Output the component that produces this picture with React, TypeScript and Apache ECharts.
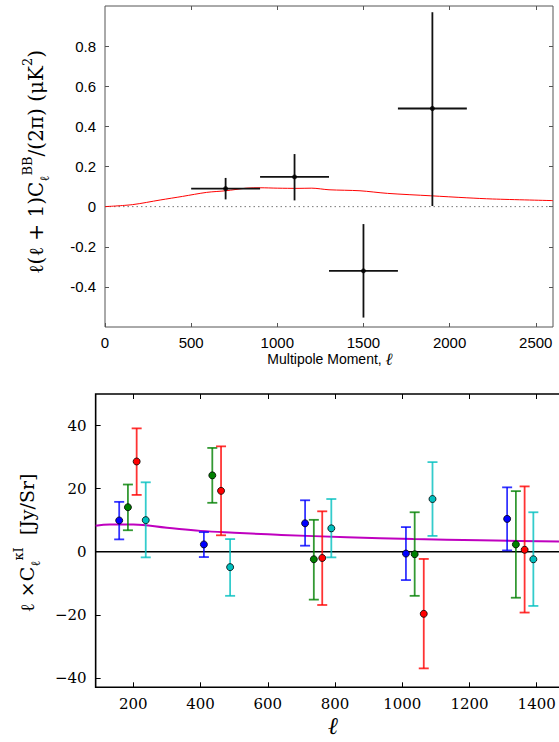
import React, { useEffect, useRef } from "react";
import * as echarts from "echarts";

// ---------- Top panel: BB power spectrum ----------
const bbEll = [700, 1100, 1500, 1900];
const bbVal = [0.09, 0.148, -0.32, 0.489];
const bbBinLo = [500, 900, 1300, 1700];
const bbBinHi = [900, 1300, 1700, 2100];
const bbErrLo = [0.036, 0.031, -0.553, 0.003];
const bbErrHi = [0.143, 0.262, -0.087, 0.969];

const theoryEll = [0, 160, 320, 450, 590, 700, 820, 900, 1000, 1120, 1200, 1300, 1480, 1640, 1890, 2100, 2250, 2600];
const theoryVal = [0, 0.01, 0.033, 0.051, 0.071, 0.079, 0.092, 0.094, 0.092, 0.091, 0.092, 0.084, 0.079, 0.066, 0.054, 0.044, 0.038, 0.03];

const topXTicks = [0, 500, 1000, 1500, 2000, 2500];
const topYTicks = [-0.4, -0.2, 0, 0.2, 0.4, 0.6, 0.8];

// ---------- Bottom panel: kappa x CIB cross spectrum ----------
const blueEll = [158, 410, 711, 1011, 1312];
const blueVal = [9.9, 2.3, 9.0, -0.6, 10.4];
const blueLo = [3.9, -1.7, 1.9, -9.0, 0.4];
const blueHi = [15.8, 6.2, 16.3, 7.8, 20.4];

const greenEll = [184, 435, 737, 1037, 1338];
const greenVal = [14.1, 24.2, -2.4, -0.8, 2.3];
const greenLo = [6.8, 15.5, -15.2, -14.0, -14.6];
const greenHi = [21.3, 32.9, 10.1, 12.5, 19.2];

const redEll = [210, 461, 762, 1064, 1364];
const redVal = [28.6, 19.3, -2.0, -19.7, 0.6];
const redLo = [18.0, 5.2, -16.9, -37.0, -19.3];
const redHi = [39.1, 33.4, 12.8, -2.3, 20.7];

const cyanEll = [237, 488, 789, 1090, 1390];
const cyanVal = [10.0, -4.9, 7.4, 16.7, -2.4];
const cyanLo = [-1.8, -14.0, -1.8, 5.0, -17.2];
const cyanHi = [22.0, 4.0, 16.7, 28.4, 12.5];

const modelEll = [88, 130, 200, 300, 400, 500, 600, 640, 835, 1033, 1231, 1466, 1600];
const modelVal = [8.2, 8.6, 8.6, 7.6, 6.6, 6.0, 5.5, 5.3, 4.6, 4.0, 3.6, 3.2, 3.0];

const botXTicks = [200, 400, 600, 800, 1000, 1200, 1400];
const botYTicks = [-40, -20, 0, 20, 40];

const SANS = "Liberation Sans";
const SERIF = "DejaVu Serif";

function zip(a: number[], b: number[]) {
  return a.map((v, i) => [v, b[i]]);
}

export default function App() {
  const ref = useRef<HTMLDivElement>(null);
  useEffect(() => {
    if (!ref.current) return;
    const chart = echarts.init(ref.current, undefined, { renderer: "svg" });

    const bbRows = bbEll.map((l, i) => [l, bbVal[i], bbBinLo[i], bbBinHi[i], bbErrLo[i], bbErrHi[i]]);

    const bbErrSeries = {
      type: "custom",
      xAxisIndex: 0,
      yAxisIndex: 0,
      data: bbRows,
      encode: { x: 0, y: 1 },
      renderItem: (params: any, api: any) => {
        const x = api.value(0), y = api.value(1);
        const a = api.coord([api.value(2), y]);
        const b = api.coord([api.value(3), y]);
        const c = api.coord([x, api.value(4)]);
        const d = api.coord([x, api.value(5)]);
        const st = { stroke: "#111", lineWidth: 1.8 };
        return {
          type: "group",
          children: [
            { type: "line", shape: { x1: a[0], y1: a[1], x2: b[0], y2: b[1] }, style: st },
            { type: "line", shape: { x1: c[0], y1: c[1], x2: d[0], y2: d[1] }, style: st },
          ],
        };
      },
      z: 3,
    };

    const makeErr = (ell: number[], lo: number[], hi: number[], color: string) => ({
      type: "custom",
      xAxisIndex: 2,
      yAxisIndex: 2,
      data: ell.map((l, i) => [l, lo[i], hi[i]]),
      encode: { x: 0, y: 1 },
      renderItem: (params: any, api: any) => {
        const x = api.value(0);
        const p1 = api.coord([x, api.value(1)]);
        const p2 = api.coord([x, api.value(2)]);
        const st = { stroke: color, lineWidth: 1.8, opacity: 0.8 };
        const cw = 5;
        return {
          type: "group",
          children: [
            { type: "line", shape: { x1: p1[0], y1: p1[1], x2: p2[0], y2: p2[1] }, style: st },
            { type: "line", shape: { x1: p1[0] - cw, y1: p1[1], x2: p1[0] + cw, y2: p1[1] }, style: st },
            { type: "line", shape: { x1: p2[0] - cw, y1: p2[1], x2: p2[0] + cw, y2: p2[1] }, style: st },
          ],
        };
      },
      z: 4,
    });

    const makePts = (ell: number[], val: number[], color: string) => ({
      type: "scatter",
      xAxisIndex: 2,
      yAxisIndex: 2,
      data: zip(ell, val),
      symbol: "circle",
      symbolSize: 7,
      itemStyle: { color, borderColor: "#000", borderWidth: 0.8, opacity: 1 },
      z: 5,
    });

    const topTickStyle = { show: true, inside: true, length: 4, lineStyle: { color: "#555", width: 1 } };
    const botTickStyle = { show: true, inside: true, length: 5, lineStyle: { color: "#000", width: 1 } };

    const option: any = {
      animation: false,
      backgroundColor: "#fff",
      grid: [
        { left: 105, top: 6, width: 448, height: 321, show: true, borderColor: "#555", borderWidth: 1, backgroundColor: "transparent", outerBoundsMode: "none", containLabel: false },
        { left: 95.65, top: 394, width: 508.3, height: 293.3, show: true, borderColor: "#000", borderWidth: 1.6, backgroundColor: "transparent", outerBoundsMode: "none", containLabel: false },
      ],
      xAxis: [
        {
          gridIndex: 0, type: "value", min: 0, max: 2600, position: "bottom",
          axisLine: { show: false, onZero: false },
          axisTick: { ...topTickStyle, customValues: topXTicks },
          axisLabel: { customValues: topXTicks, color: "#000", fontFamily: SANS, fontSize: 15, margin: 8, formatter: (v: number) => String(v) },
          splitLine: { show: false },
        },
        {
          gridIndex: 0, type: "value", min: 0, max: 2600, position: "top",
          axisLine: { show: false, onZero: false },
          axisTick: { ...topTickStyle, customValues: topXTicks.slice(1) },
          axisLabel: { show: false },
          splitLine: { show: false },
        },
        {
          gridIndex: 1, type: "value", min: 88, max: 1600, position: "bottom",
          axisLine: { show: false, onZero: false },
          axisTick: { ...botTickStyle, customValues: botXTicks },
          axisLabel: { customValues: botXTicks, color: "#000", fontFamily: SERIF, fontSize: 15, margin: 9, formatter: (v: number) => String(v) },
          splitLine: { show: false },
        },
        {
          gridIndex: 1, type: "value", min: 88, max: 1600, position: "top",
          axisLine: { show: false, onZero: false },
          axisTick: { ...botTickStyle, customValues: botXTicks },
          axisLabel: { show: false },
          splitLine: { show: false },
        },
      ],
      yAxis: [
        {
          gridIndex: 0, type: "value", min: -0.6, max: 1.0, position: "left",
          axisLine: { show: false, onZero: false },
          axisTick: { ...topTickStyle, customValues: topYTicks },
          axisLabel: {
            customValues: topYTicks, color: "#000", fontFamily: SANS, fontSize: 15, margin: 9,
            formatter: (v: number) => (Math.abs(v) < 1e-9 ? "0" : v.toFixed(1)),
          },
          splitLine: { show: false },
        },
        {
          gridIndex: 0, type: "value", min: -0.6, max: 1.0, position: "right",
          axisLine: { show: false, onZero: false },
          axisTick: { ...topTickStyle, customValues: topYTicks },
          axisLabel: { show: false },
          splitLine: { show: false },
        },
        {
          gridIndex: 1, type: "value", min: -43, max: 50, position: "left",
          axisLine: { show: false, onZero: false },
          axisTick: { ...botTickStyle, customValues: botYTicks },
          axisLabel: {
            customValues: botYTicks, color: "#000", fontFamily: SERIF, fontSize: 15, margin: 9,
            formatter: (v: number) => (v < 0 ? "\u2212" + Math.abs(v) : String(v)),
          },
          splitLine: { show: false },
        },
      ],
      series: [
        {
          type: "line", xAxisIndex: 0, yAxisIndex: 0,
          data: [[0, 0], [2600, 0]],
          showSymbol: false, silent: true,
          lineStyle: { color: "#777", width: 1, type: [1.5, 3] },
          z: 1,
        },
        {
          type: "line", xAxisIndex: 0, yAxisIndex: 0,
          data: zip(theoryEll, theoryVal),
          showSymbol: false, smooth: 0.3,
          lineStyle: { color: "#ff0000", width: 1 },
          z: 2,
        },
        bbErrSeries,
        {
          type: "scatter", xAxisIndex: 0, yAxisIndex: 0,
          data: zip(bbEll, bbVal),
          symbol: "circle", symbolSize: 5,
          itemStyle: { color: "#000" },
          z: 4,
        },
        {
          type: "line", xAxisIndex: 2, yAxisIndex: 2,
          data: [[88, 0], [1600, 0]],
          showSymbol: false, silent: true,
          lineStyle: { color: "#000", width: 1.6 },
          z: 2,
        },
        {
          type: "line", xAxisIndex: 2, yAxisIndex: 2,
          data: zip(modelEll, modelVal),
          showSymbol: false, smooth: 0.4,
          lineStyle: { color: "#bf00bf", width: 2 },
          z: 3,
        },
        makeErr(blueEll, blueLo, blueHi, "#0000ff"),
        makeErr(greenEll, greenLo, greenHi, "#008000"),
        makeErr(redEll, redLo, redHi, "#ff0000"),
        makeErr(cyanEll, cyanLo, cyanHi, "#00bfbf"),
        makePts(blueEll, blueVal, "#0000ff"),
        makePts(greenEll, greenVal, "#008000"),
        makePts(redEll, redVal, "#ff0000"),
        makePts(cyanEll, cyanVal, "#00bfbf"),
      ],
      graphic: [
        {
          type: "text",
          x: 36, y: 162,
          rotation: Math.PI / 2,
          style: {
            text: "{n|\u2113(\u2113 + 1)C}{sub|\u2113}{sup|BB}{n|/(2\u03c0) (\u03bcK}{sup|2}{n|)}",
            align: "center",
            verticalAlign: "middle",
            fill: "#000",
            rich: {
              n: { fontFamily: SERIF, fontSize: 20, lineHeight: 30, verticalAlign: "middle", fill: "#000" },
              sup: { fontFamily: SERIF, fontSize: 13, lineHeight: 14, verticalAlign: "top", fill: "#000" },
              sub: { fontFamily: SERIF, fontSize: 13, lineHeight: 14, verticalAlign: "bottom", fill: "#000" },
            },
          },
        },
        {
          type: "text",
          x: 330, y: 359,
          style: {
            text: "{n|Multipole Moment, }{l|\u2113}",
            align: "center",
            verticalAlign: "middle",
            fill: "#000",
            rich: {
              n: { fontFamily: SANS, fontSize: 14, fill: "#000" },
              l: { fontFamily: SERIF, fontSize: 17, fontStyle: "italic", fill: "#000" },
            },
          },
        },
        {
          type: "text",
          x: 27, y: 543,
          rotation: Math.PI / 2,
          style: {
            text: "{n|\u2113 \u00d7C}{sub|\u2113}{sup|\u03baI}{n|  [Jy/Sr]}",
            align: "center",
            verticalAlign: "middle",
            fill: "#000",
            rich: {
              n: { fontFamily: SERIF, fontSize: 19, lineHeight: 30, verticalAlign: "middle", fill: "#000" },
              sup: { fontFamily: SERIF, fontSize: 13, lineHeight: 14, verticalAlign: "top", fill: "#000" },
              sub: { fontFamily: SERIF, fontSize: 13, lineHeight: 14, verticalAlign: "bottom", fill: "#000" },
            },
          },
        },
        {
          type: "text",
          x: 333, y: 726,
          style: {
            text: "\u2113",
            align: "center",
            verticalAlign: "middle",
            fill: "#000",
            fontFamily: SERIF,
            fontSize: 24,
            fontStyle: "italic",
          },
        },
      ],
    };

    chart.setOption(option);
    return () => chart.dispose();
  }, []);

  return (
    <div
      ref={ref}
      style={{ position: "absolute", left: 0, top: 0, width: 559, height: 742, overflow: "hidden" }}
    />
  );
}
